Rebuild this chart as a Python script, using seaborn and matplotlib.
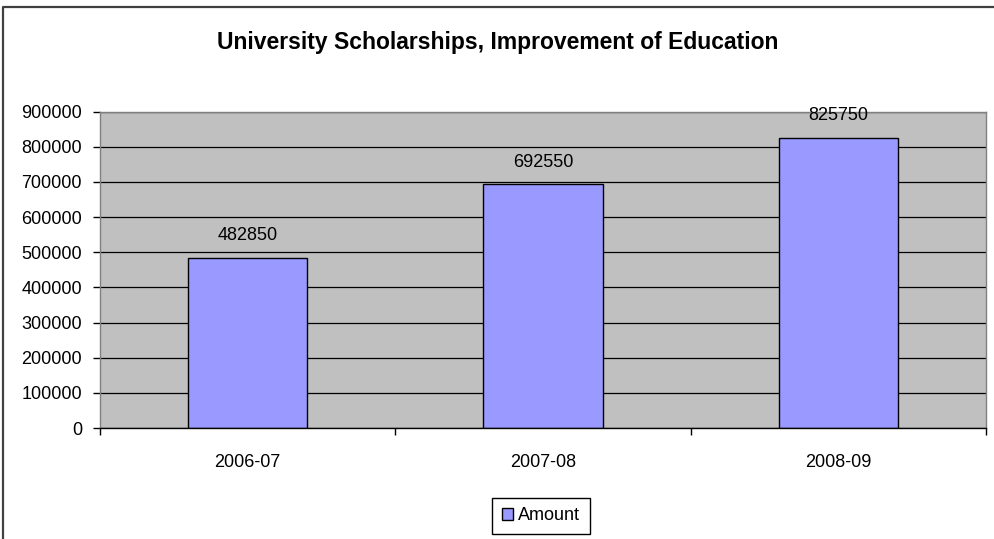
import pandas as pd
import matplotlib.pyplot as plt
import seaborn as sns
from matplotlib.lines import Line2D
from matplotlib.patches import Patch
from matplotlib.ticker import FixedLocator


TITLE = "University Scholarships, Improvement of Education"
years = ["2006-07", "2007-08", "2008-09"]
amounts = [482850, 692550, 825750]
series_name = "Amount"
y_ticks = [0, 100000, 200000, 300000, 400000, 500000, 600000, 700000, 800000, 900000]

BAR_COLOR = "#9999FF"
PLOT_BG = "#C0C0C0"


def main():
    sns.set_style("white", {
        "axes.facecolor": PLOT_BG,
        "text.color": "black",
        "xtick.color": "black",
        "ytick.color": "black",
    })
    plt.rcParams["font.family"] = ["Liberation Sans", "DejaVu Sans"]

    df = pd.DataFrame({"year": years, "amount": amounts})

    fig = plt.figure(figsize=(9.95, 5.39), dpi=100)
    ax = fig.add_axes([0.1005, 0.2059, 0.8905, 0.5872])

    sns.barplot(
        data=df,
        x="year",
        y="amount",
        color=BAR_COLOR,
        edgecolor="black",
        linewidth=1,
        width=0.405,
        saturation=1,
        ax=ax,
    )

    ax.set_ylim(0, y_ticks[-1])
    ax.set_xlim(-0.5, len(years) - 0.5)
    ax.set_yticks(y_ticks)
    ax.set_yticklabels([str(v) for v in y_ticks])
    ax.yaxis.grid(True, color="black", linewidth=0.9)
    ax.set_axisbelow(True)
    ax.set_xlabel("")
    ax.set_ylabel("")

    # category boundaries get the tick marks, labels sit in between
    ax.xaxis.set_minor_locator(FixedLocator([i - 0.5 for i in range(len(years) + 1)]))
    ax.tick_params(axis="x", which="major", bottom=True, length=0, pad=19,
                   labelsize=13, labelcolor="black")
    ax.tick_params(axis="x", which="minor", bottom=True, length=5, width=1,
                   color="black", direction="out")
    ax.tick_params(axis="y", left=True, length=5, width=1, color="black",
                   direction="out", pad=8, labelsize=13, labelcolor="black")

    for side in ["top", "right", "left"]:
        ax.spines[side].set_color("#808080")
        ax.spines[side].set_linewidth(1)
    ax.spines["bottom"].set_color("black")
    ax.spines["bottom"].set_linewidth(1)

    ax.bar_label(ax.containers[0], fmt="%d", padding=10, fontsize=13, color="black")

    fig.text(0.5, 1 - 49 / 539, TITLE, ha="center", va="baseline",
             fontsize=16.5, fontweight="bold", color="black")

    handle = Patch(facecolor=BAR_COLOR, edgecolor="black", linewidth=1)
    leg = fig.legend(
        [handle],
        [series_name],
        loc="center",
        bbox_to_anchor=(541 / 995, 1 - 516 / 539),
        frameon=True,
        fancybox=False,
        edgecolor="black",
        facecolor="white",
        framealpha=1,
        fontsize=13,
        handlelength=0.6,
        handleheight=0.6,
        handletextpad=0.25,
        borderpad=0.55,
    )
    leg.get_frame().set_linewidth(1)
    for t in leg.get_texts():
        t.set_color("black")

    # chart area border: only the top and left edges show in the reference
    fig.add_artist(Line2D([3 / 995, 3 / 995, 1], [0, 1 - 6.5 / 539, 1 - 6.5 / 539],
                          transform=fig.transFigure, color="#404040", linewidth=1.6))

    fig.savefig("out.png", dpi=100)
    plt.close(fig)


if __name__ == "__main__":
    main()
